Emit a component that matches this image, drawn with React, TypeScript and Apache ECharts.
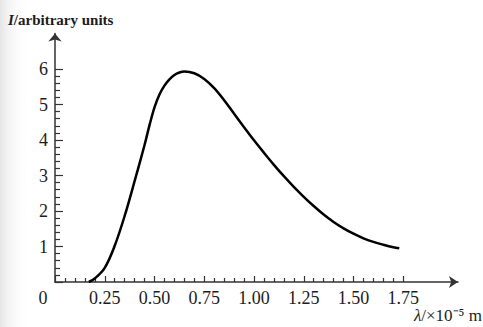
import React, { useEffect, useRef } from "react";
import * as echarts from "echarts";

// wavelength in units of 1e-5 m
const wavelength = [0.17, 0.2, 0.25, 0.3, 0.35, 0.4, 0.45, 0.475, 0.5, 0.525, 0.55, 0.575, 0.6, 0.625, 0.65, 0.7, 0.75, 0.8, 0.85, 0.9, 0.95, 1.0, 1.05, 1.1, 1.15, 1.2, 1.25, 1.3, 1.35, 1.4, 1.45, 1.5, 1.55, 1.6, 1.65, 1.7, 1.73];
// intensity, arbitrary units
const intensity = [0, 0.1, 0.4, 1.02, 1.86, 2.84, 3.86, 4.42, 4.92, 5.28, 5.53, 5.71, 5.83, 5.9, 5.93, 5.88, 5.72, 5.46, 5.12, 4.74, 4.36, 3.99, 3.64, 3.3, 2.98, 2.68, 2.4, 2.14, 1.9, 1.69, 1.51, 1.36, 1.23, 1.13, 1.05, 0.98, 0.95];

const xTickMax = 1.75;
const xAxisEnd = 2.025;
const yTickMax = 6;
const yAxisEnd = 7;
const xStep = 0.25;
const yStep = 1;

const W = 483;
const H = 327;
const ORIGIN_X = 55;
const ORIGIN_Y = 282;
const PX_PER_X = 199;
const PX_PER_Y = 35.5;

const SERIF = "'Liberation Serif', 'Times New Roman', serif";
const TEXT = "#1c1c1c";
const AXIS = "#333";

export default function App() {
  const ref = useRef<HTMLDivElement>(null);
  useEffect(() => {
    if (!ref.current) return;
    const chart = echarts.init(ref.current, undefined, { renderer: "svg" });
    const bottom = H - ORIGIN_Y;
    const gridA = {
      left: ORIGIN_X,
      bottom,
      width: xAxisEnd * PX_PER_X,
      height: yAxisEnd * PX_PER_Y,
    };
    const gridB = {
      left: ORIGIN_X,
      bottom,
      width: xTickMax * PX_PER_X,
      height: yTickMax * PX_PER_Y,
    };
    const data = wavelength.map((x, i) => [x, intensity[i]]);
    chart.setOption({
      animation: false,
      backgroundColor: "transparent",
      title: [
        {
          text: "{i|I}/arbitrary units",
          left: 8,
          top: 12,
          padding: 0,
          textStyle: {
            fontFamily: SERIF,
            fontSize: 15,
            fontWeight: "bold",
            lineHeight: 16,
            color: TEXT,
            rich: {
              i: { fontFamily: SERIF, fontSize: 15, fontWeight: "bold", fontStyle: "italic", lineHeight: 16, color: TEXT },
            },
          },
        },
        {
          text: "{i|λ}/×10⁻⁵ m",
          right: 1,
          top: 306,
          padding: 0,
          textStyle: {
            fontFamily: SERIF,
            fontSize: 17,
            fontWeight: "normal",
            lineHeight: 18,
            color: TEXT,
            rich: {
              i: { fontFamily: SERIF, fontSize: 17, fontStyle: "italic", lineHeight: 18, color: TEXT },
            },
          },
        },
      ],
      grid: [
        { ...gridA, containLabel: false },
        { ...gridB, containLabel: false },
      ],
      xAxis: [
        {
          gridIndex: 0,
          type: "value",
          min: 0,
          max: xAxisEnd,
          axisLine: {
            show: true,
            symbol: ["none", "arrow"],
            symbolSize: [9, 9],
            lineStyle: { color: AXIS, width: 1.5 },
          },
          axisTick: { show: false },
          axisLabel: { show: false },
          splitLine: { show: false },
        },
        {
          gridIndex: 1,
          type: "value",
          min: 0,
          max: xTickMax,
          interval: xStep,
          axisLine: { show: false },
          axisTick: { show: true, inside: true, length: 6, lineStyle: { color: AXIS, width: 1.2 } },
          minorTick: { show: true, splitNumber: 5, length: 4, lineStyle: { color: AXIS, width: 1.2 } },
          axisLabel: {
            show: true,
            margin: 7,
            fontFamily: SERIF,
            fontSize: 18,
            color: TEXT,
            formatter: (v: number) => (v === 0 ? "{o|0}" : v.toFixed(2)),
            rich: {
              o: { fontFamily: SERIF, fontSize: 18, color: TEXT, padding: [0, 24, 0, 0] },
            },
          },
          splitLine: { show: false },
        },
      ],
      yAxis: [
        {
          gridIndex: 0,
          type: "value",
          min: 0,
          max: yAxisEnd,
          axisLine: {
            show: true,
            symbol: ["none", "arrow"],
            symbolSize: [10, 8],
            lineStyle: { color: AXIS, width: 1.5 },
          },
          axisTick: { show: false },
          axisLabel: { show: false },
          splitLine: { show: false },
        },
        {
          gridIndex: 1,
          type: "value",
          min: 0,
          max: yTickMax,
          interval: yStep,
          axisLine: { show: false },
          axisTick: { show: true, inside: true, length: 8, lineStyle: { color: AXIS, width: 1.2 } },
          minorTick: { show: true, splitNumber: 5, length: 5, lineStyle: { color: AXIS, width: 1.2 } },
          axisLabel: {
            show: true,
            margin: 7,
            fontFamily: SERIF,
            fontSize: 18,
            color: TEXT,
            formatter: (v: number) => (v === 0 ? "" : String(v)),
          },
          splitLine: { show: false },
        },
      ],
      series: [
        {
          type: "line",
          xAxisIndex: 1,
          yAxisIndex: 1,
          data,
          smooth: 0.35,
          showSymbol: false,
          symbol: "none",
          clip: false,
          lineStyle: { color: "#000", width: 2.5 },
        },
      ],
    });
    return () => chart.dispose();
  }, []);
  return (
    <div
      ref={ref}
      style={{
        position: "fixed",
        left: 0,
        top: 0,
        width: W,
        height: H,
        background: "linear-gradient(to right, #e6e6e6 0px, #f3f3f3 8px, #fcfcfc 18px, #ffffff 30px)",
      }}
    />
  );
}
